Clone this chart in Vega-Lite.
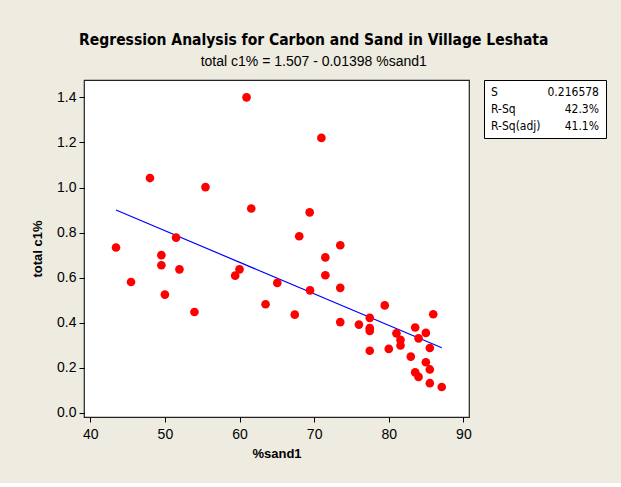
{
  "$schema": "https://vega.github.io/schema/vega-lite/v6.json",
  "padding": {"left": 30, "top": 32, "right": 17, "bottom": 22},
  "background": "#EEEBE1",
  "title": {
    "text": "Regression Analysis for Carbon and Sand in Village Leshata",
    "subtitle": "total c1% =  1.507 - 0.01398 %sand1",
    "anchor": "middle",
    "dx": -5,
    "offset": 10,
    "font": "DejaVu Sans Condensed",
    "fontSize": 15.5,
    "fontWeight": "bold",
    "color": "black",
    "subtitleFont": "Liberation Sans",
    "subtitleFontSize": 14,
    "subtitleColor": "black",
    "subtitlePadding": 7
  },
  "spacing": 15,
  "bounds": "flush",
  "config": {
    "view": {"fill": "white", "stroke": "#222222", "strokeWidth": 1.2},
    "axis": {
      "labelFont": "Liberation Sans",
      "labelFontSize": 14,
      "labelColor": "black",
      "tickColor": "black",
      "tickSize": 5,
      "labelPadding": 3,
      "domain": false,
      "grid": false,
      "titleFont": "Liberation Sans",
      "titleFontSize": 13,
      "titleFontWeight": "bold",
      "titleColor": "black"
    }
  },
  "hconcat": [
    {
      "width": 385,
      "height": 337,
      "layer": [
        {
          "data": {"values": [{"sand": 43.45, "carbon": 0.9}, {"sand": 87.1, "carbon": 0.2893}]},
          "mark": {"type": "line", "color": "#0000FF", "strokeWidth": 1.2},
          "encoding": {
            "x": {"field": "sand", "type": "quantitative"},
            "y": {"field": "carbon", "type": "quantitative"}
          }
        },
        {
          "data": {"values": [
            {"sand": 43.45, "carbon": 0.734},
            {"sand": 45.46, "carbon": 0.581},
            {"sand": 48.0, "carbon": 1.042},
            {"sand": 49.53, "carbon": 0.700},
            {"sand": 49.53, "carbon": 0.655},
            {"sand": 50.0, "carbon": 0.525},
            {"sand": 51.5, "carbon": 0.778},
            {"sand": 51.95, "carbon": 0.637},
            {"sand": 53.96, "carbon": 0.448},
            {"sand": 55.44, "carbon": 1.002},
            {"sand": 59.42, "carbon": 0.609},
            {"sand": 60.0, "carbon": 0.637},
            {"sand": 60.94, "carbon": 1.400},
            {"sand": 61.57, "carbon": 0.907},
            {"sand": 63.49, "carbon": 0.482},
            {"sand": 65.06, "carbon": 0.577},
            {"sand": 67.4, "carbon": 0.436},
            {"sand": 68.0, "carbon": 0.784},
            {"sand": 69.4, "carbon": 0.890},
            {"sand": 69.45, "carbon": 0.544},
            {"sand": 70.97, "carbon": 1.220},
            {"sand": 71.5, "carbon": 0.690},
            {"sand": 71.5, "carbon": 0.611},
            {"sand": 73.5, "carbon": 0.744},
            {"sand": 73.5, "carbon": 0.555},
            {"sand": 73.5, "carbon": 0.403},
            {"sand": 76.0, "carbon": 0.392},
            {"sand": 77.45, "carbon": 0.422},
            {"sand": 77.45, "carbon": 0.376},
            {"sand": 77.45, "carbon": 0.364},
            {"sand": 77.45, "carbon": 0.276},
            {"sand": 79.46, "carbon": 0.477},
            {"sand": 80.0, "carbon": 0.284},
            {"sand": 81.03, "carbon": 0.353},
            {"sand": 81.57, "carbon": 0.324},
            {"sand": 81.57, "carbon": 0.299},
            {"sand": 82.95, "carbon": 0.250},
            {"sand": 83.54, "carbon": 0.379},
            {"sand": 83.99, "carbon": 0.331},
            {"sand": 83.54, "carbon": 0.180},
            {"sand": 83.99, "carbon": 0.160},
            {"sand": 84.97, "carbon": 0.355},
            {"sand": 84.97, "carbon": 0.225},
            {"sand": 85.5, "carbon": 0.288},
            {"sand": 85.5, "carbon": 0.193},
            {"sand": 85.5, "carbon": 0.132},
            {"sand": 85.96, "carbon": 0.438},
            {"sand": 87.1, "carbon": 0.115}
          ]},
          "mark": {"type": "circle", "size": 75, "color": "#FF0000", "opacity": 1},
          "encoding": {
            "x": {
              "field": "sand", "type": "quantitative",
              "scale": {"domain": [39.16, 90.75], "nice": false, "zero": false},
              "axis": {"values": [40, 50, 60, 70, 80, 90], "title": "%sand1", "titlePadding": 6, "labelPadding": 5}
            },
            "y": {
              "field": "carbon", "type": "quantitative",
              "scale": {"domain": [-0.018, 1.477], "nice": false, "zero": false},
              "axis": {"values": [0, 0.2, 0.4, 0.6, 0.8, 1.0, 1.2, 1.4], "format": ".1f", "title": "total c1%", "titlePadding": 12}
            }
          }
        }
      ]
    },
    {
      "width": 122,
      "height": 58,
      "view": {"stroke": "black", "strokeWidth": 1},
      "data": {"values": [
        {"stat": "S", "value": "0.216578"},
        {"stat": "R-Sq", "value": "42.3%"},
        {"stat": "R-Sq(adj)", "value": "41.1%"}
      ]},
      "layer": [
        {
          "mark": {"type": "text", "align": "left", "baseline": "middle", "font": "DejaVu Sans Condensed", "fontSize": 12, "color": "black"},
          "encoding": {
            "x": {"datum": "label", "type": "nominal", "scale": {"type": "point", "domain": ["label", "value"], "padding": 0.065}, "axis": null},
            "y": {"field": "stat", "type": "nominal", "scale": {"type": "point", "domain": ["S", "R-Sq", "R-Sq(adj)"], "padding": 0.706}, "axis": null},
            "text": {"field": "stat"}
          }
        },
        {
          "mark": {"type": "text", "align": "right", "baseline": "middle", "font": "DejaVu Sans Condensed", "fontSize": 12, "color": "black"},
          "encoding": {
            "x": {"datum": "value", "type": "nominal"},
            "y": {"field": "stat", "type": "nominal"},
            "text": {"field": "value"}
          }
        }
      ]
    }
  ]
}
